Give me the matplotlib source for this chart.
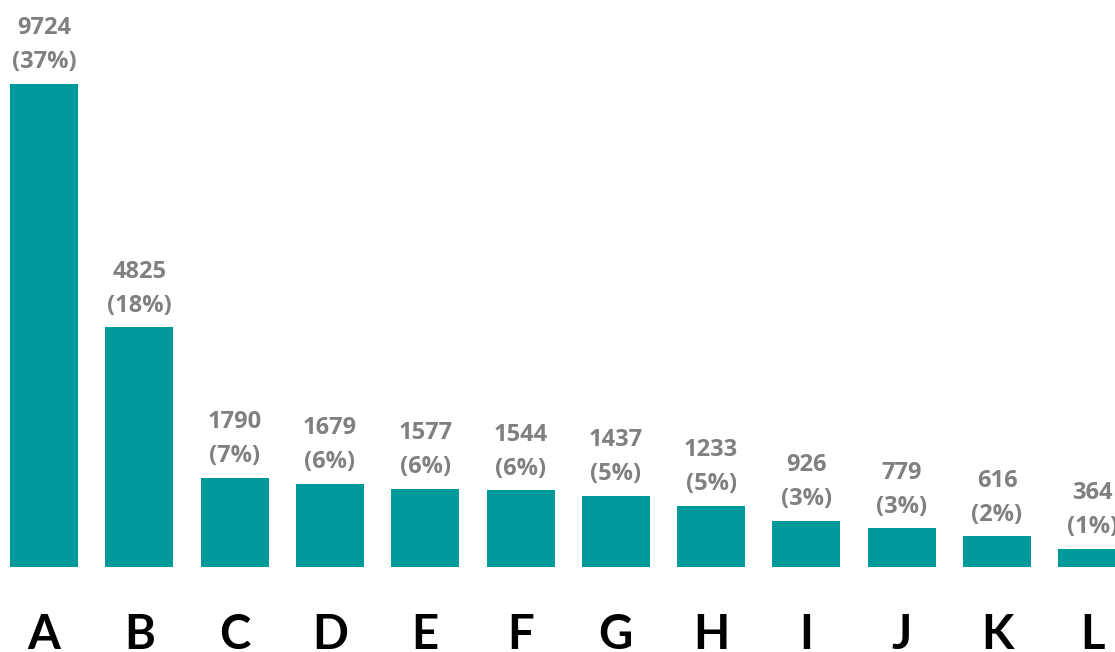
import matplotlib
matplotlib.use('Agg')
import matplotlib.pyplot as plt
import matplotlib.transforms as mtransforms
import numpy as np

categories = ['A', 'B', 'C', 'D', 'E', 'F', 'G', 'H', 'I', 'J', 'K', 'L']
counts = [9724, 4825, 1790, 1679, 1577, 1544, 1437, 1233, 926, 779, 616, 364]
percents = [37, 18, 7, 6, 6, 6, 5, 5, 3, 3, 2, 1]

plt.rcParams['font.family'] = ['Open Sans', 'DejaVu Sans']

fig = plt.figure(figsize=(11.15, 6.52), dpi=100)
ax = fig.add_axes([0, 85 / 652, 1, 567 / 652])

x = np.arange(len(categories))
ax.bar(x, counts, width=0.7135, color='#009999')

for xi, c, p in zip(x, counts, percents):
    ax.annotate(f'{c}\n({p}%)', (xi, c), xytext=(0, 7), textcoords='offset points',
                ha='center', va='bottom', fontsize=17, fontweight='bold',
                color='#808080', linespacing=1.55)

trans = mtransforms.blended_transform_factory(ax.transData, fig.transFigure)
for xi, lab in zip(x, categories):
    ax.text(xi, 3 / 652, lab, transform=trans, ha='center', va='baseline',
            fontsize=34, fontweight='bold', color='black', family=['Lato', 'DejaVu Sans'])

ax.set_xlim(-0.4617, 11.238)
ax.set_ylim(0, 11415)
ax.axis('off')

fig.savefig('out.png', dpi=100)
